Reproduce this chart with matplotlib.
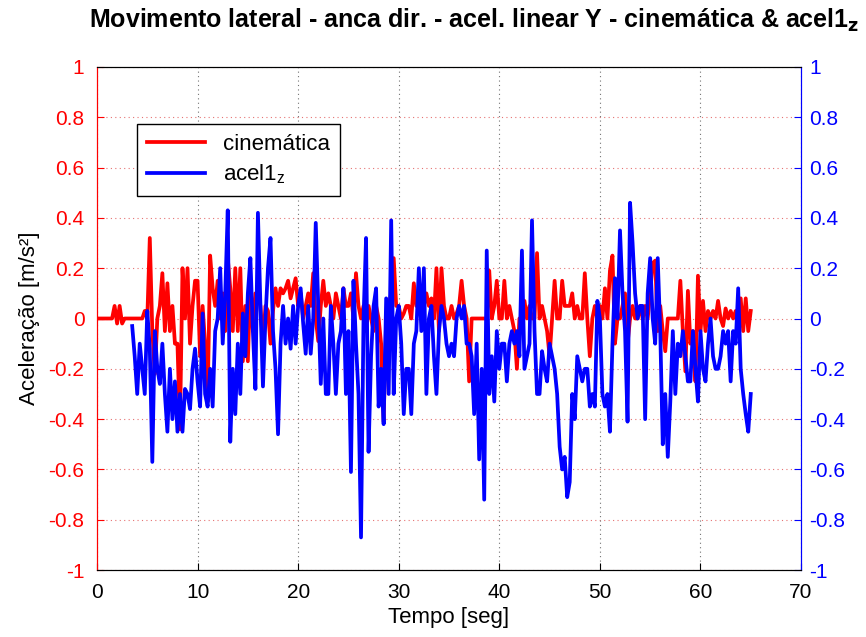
import numpy as np
import matplotlib
matplotlib.use("Agg")
import matplotlib.pyplot as plt

plt.rcParams['font.family'] = ['Liberation Sans', 'DejaVu Sans']

# acel1_z, sampled every 0.25 s from t = 3.5 s
acel_start = 3.5
acel_vals = [
    -0.03, -0.15,
    -0.3, -0.1, -0.2, -0.3,
    0.03, -0.12, -0.57, -0.05,
    -0.2, -0.26, -0.1, -0.3,
    -0.45, -0.2, -0.4, -0.25,
    -0.45, -0.3, -0.45, -0.28,
    -0.3, -0.36, -0.2, -0.12,
    -0.25, -0.35, 0.02, -0.3,
    -0.35, -0.2, -0.35, -0.05,
    0.0, 0.2, -0.1, 0.1,
    0.43, -0.49, -0.2, -0.38,
    -0.1, -0.3, 0.02, -0.15,
    0.1, 0.24, -0.05, -0.28,
    0.42, 0.05, -0.27, 0.0,
    0.2, 0.32, -0.05, -0.2,
    -0.46, -0.1, 0.05, -0.1,
    0.0, -0.12, 0.05, -0.1,
    0.05, 0.12, -0.02, -0.14,
    0.05, -0.14, 0.0, 0.38,
    0.05, -0.26, 0.0, -0.3,
    -0.3, 0.05, -0.1, -0.3,
    -0.1, -0.05, 0.12, -0.3,
    -0.05, -0.61, 0.15, -0.1,
    -0.3, -0.87, 0.0, 0.32,
    -0.53, -0.15, 0.05, 0.12,
    -0.35, -0.2, -0.42, 0.08,
    -0.3, 0.39, -0.3, 0.0,
    0.05, -0.1, -0.38, -0.2,
    -0.2, -0.38, -0.1, -0.05,
    0.2, -0.05, 0.2, -0.3,
    0.0, 0.05, -0.15, -0.3,
    -0.05, 0.05, 0.0, -0.1,
    -0.15, -0.1, -0.15, 0.0,
    0.05, 0.0, 0.05, -0.1,
    -0.1, -0.15, -0.38, -0.1,
    -0.56, -0.2, -0.72, 0.27,
    -0.3, -0.15, -0.33, -0.05,
    -0.2, -0.1, -0.1, -0.25,
    -0.1, -0.05, -0.1, -0.05,
    -0.15, 0.27, -0.2, -0.15,
    -0.1, 0.39, -0.05, -0.3,
    -0.3, -0.13, -0.2, -0.25,
    -0.1, -0.15, -0.2, -0.3,
    -0.51, -0.6, -0.55, -0.71,
    -0.65, -0.3, -0.4, -0.15,
    -0.2, -0.25, -0.2, -0.2,
    -0.35, -0.3, -0.35, 0.07,
    0.0, -0.3, -0.35, -0.3,
    -0.45, -0.1, 0.16, 0.0,
    0.35, 0.1, -0.05, -0.41,
    0.46, 0.3, 0.1, 0.0,
    0.05, 0.05, -0.4, 0.1,
    0.24, 0.0, -0.1, 0.24,
    -0.05, -0.5, -0.3, -0.55,
    -0.33, -0.05, -0.3, -0.1,
    -0.15, -0.05, -0.15, -0.25,
    -0.25, -0.05, -0.2, -0.33,
    -0.05, -0.2, -0.25, -0.1,
    0.0, -0.15, -0.2, -0.2,
    -0.15, -0.05, -0.1, -0.05,
    -0.25, -0.05, -0.1, 0.12,
    -0.2, -0.3, -0.38, -0.45,
    -0.3,
]

# cinematica, sampled every 0.25 s from t = 0
cine_start = 0.0
cine_vals = [
    0, 0, 0, 0,
    0, 0, 0, 0.05,
    -0.02, 0.05, -0.02, 0,
    0, 0, 0, 0,
    0, 0, 0, 0.03,
    0.0, 0.32, -0.05, -0.22,
    0.0, 0.05, 0.18, -0.05,
    0.14, -0.05, 0.05, -0.1,
    -0.1, -0.44, 0.2, 0.0,
    0.2, -0.1, 0.05, 0.15,
    0.15, -0.15, 0.05, -0.1,
    -0.33, 0.25, 0.12, 0.05,
    0.15, 0.0, 0.1, -0.05,
    0.24, 0.12, -0.05, 0.2,
    -0.05, 0.2, -0.17, 0.05,
    -0.17, 0.15, -0.05, 0.1,
    0.1, 0.05, -0.1, 0.05,
    0.03, -0.1, 0.03, 0.12,
    0.05, 0.12, 0.1, 0.12,
    0.15, 0.08, 0.12, 0.16,
    0.05, 0.1, 0.0, 0.05,
    0.1, 0.05, 0.18, 0.0,
    -0.09, 0.05, 0.15, 0.05,
    0.1, 0.05, 0.0, 0.1,
    0.05, 0.0, 0.12, 0.05,
    0.05, 0.1, 0.0, 0.18,
    0.05, 0.0, 0.05, -0.05,
    0.05, 0.0, -0.05, 0.05,
    0.0, -0.1, -0.41, 0.0,
    0.05, 0.1, 0.24, 0.05,
    0.05, 0.0, 0.02, 0.05,
    0.05, 0.0, 0.14, 0.05,
    0.05, 0.0, 0.05, 0.1,
    0.05, 0.08, 0.0, 0.2,
    -0.05, 0.2, 0.05, 0.0,
    0.0, 0.05, 0.0, 0.02,
    0.05, 0.15, 0.05, 0.0,
    -0.25, 0.0, 0.0, 0.0,
    0.0, 0.0, 0.0, 0.0,
    0.19, 0.0, 0.05, 0.15,
    0.0, 0.0, 0.15, 0.0,
    0.05, 0.0, -0.05, -0.2,
    0.0, 0.0, 0.07, 0.0,
    0.05, 0.0, 0.0, 0.26,
    0.0, 0.05, 0.0, -0.05,
    -0.15, 0.0, 0.15, 0.0,
    0.0, 0.15, 0.05, 0.05,
    0.05, 0.1, 0.0, 0.05,
    0.0, 0.0, 0.18, 0.0,
    -0.15, 0.0, 0.05, 0.0,
    0.05, 0.0, 0.12, 0.0,
    0.19, 0.25, -0.1, 0.0,
    0.0, 0.05, 0.1, -0.1,
    0.0, 0.05, 0.0, 0.0,
    0.05, 0.0, 0.05, 0.0,
    0.1, 0.22, 0.23, -0.05,
    0.05, -0.05, -0.13, 0.0,
    0.0, 0.0, 0.0, 0.0,
    0.15, -0.05, -0.21, 0.11,
    -0.1, -0.05, -0.25, 0.17,
    -0.05, 0.07, -0.05, 0.03,
    0.0, 0.03, 0.0, 0.07,
    0.0, -0.03, 0.04, 0.0,
    0.03, 0.0, 0.03, 0.0,
    0.08, -0.05, 0.08, -0.05,
    0.03,
]

dt = 0.25
t_acel = acel_start + dt * np.arange(len(acel_vals))
t_cine = cine_start + dt * np.arange(len(cine_vals))

yticks = np.round(np.arange(-1, 1.01, 0.2), 1)
ytick_labels = ['-1', '-0.8', '-0.6', '-0.4', '-0.2', '0', '0.2', '0.4', '0.6', '0.8', '1']
xticks = [0, 10, 20, 30, 40, 50, 60, 70]

fig = plt.figure(figsize=(8.66, 6.37), dpi=100)
ax = fig.add_axes([0.112, 0.105, 0.813, 0.79])
ax2 = ax.twinx()

l1, = ax.plot(t_cine, cine_vals, color=(1, 0, 0), lw=2.7)
l2, = ax2.plot(t_acel, acel_vals, color=(0, 0, 1), lw=2.7)

ax.set_xlim(0, 70)
ax.set_ylim(-1, 1)
ax2.set_ylim(-1, 1)
ax.set_xticks(xticks)
ax.set_xticklabels([str(x) for x in xticks])
ax.set_yticks(yticks)
ax.set_yticklabels(ytick_labels)
ax2.set_yticks(yticks)
ax2.set_yticklabels(ytick_labels)

ax.tick_params(axis='x', direction='in', labelsize=15, colors='black', length=5, pad=9)
ax.tick_params(axis='y', direction='in', labelsize=15, colors='red', length=5, pad=9)
ax2.tick_params(axis='y', direction='in', labelsize=15, colors='blue', length=5, pad=6)

ax.spines['left'].set_color('red')
ax2.spines['left'].set_color('red')
ax2.spines['right'].set_color('blue')
ax.spines['right'].set_color('blue')

# grid
for y in yticks:
    ax.axhline(y, color=(0.9, 0.45, 0.45), ls=(0, (1, 3)), lw=0.8, zorder=0)
for x in xticks:
    ax.axvline(x, color=(0.45, 0.45, 0.45), ls=(0, (1, 3)), lw=0.8, zorder=0)

ax.set_xlabel('Tempo [seg]', fontsize=16, labelpad=4)
ax.set_ylabel('Aceleração [m/s²]', fontsize=16, labelpad=6)

fig.suptitle(r'Movimento lateral - anca dir. - acel. linear Y - cinemática & acel1$_\mathbf{z}$',
             fontsize=18, fontweight='bold', x=0.547, y=0.99,
             family=['Liberation Sans Narrow', 'Liberation Sans', 'DejaVu Sans'])

leg = ax2.legend([l1, l2], ['cinemática', r'acel1$_\mathregular{z}$'],
                 loc='upper left', bbox_to_anchor=(0.057, 0.887), borderaxespad=0,
                 fontsize=16, fancybox=False, edgecolor='black', framealpha=1,
                 handlelength=2.6, borderpad=0.45, labelspacing=0.35)
leg.get_frame().set_linewidth(1.0)

fig.savefig('out.png', dpi=100)
